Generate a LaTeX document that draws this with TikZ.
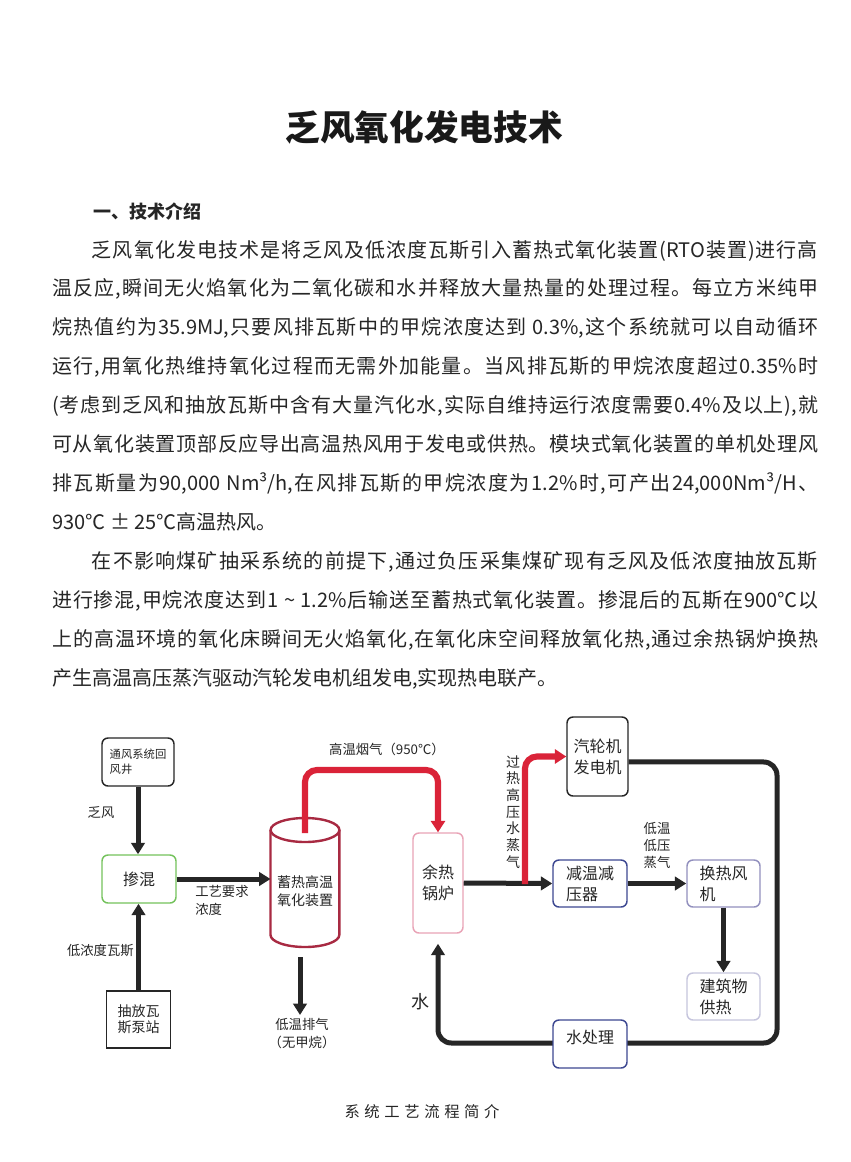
\documentclass[tikz,border=0pt]{standalone}
\usepackage{fontspec}
\setmainfont{Noto Sans CJK SC}
\usetikzlibrary{arrows.meta}
% inter-character glue for justified CJK lines
\newcount\cjkcc \cjkcc="4E00
\loop \XeTeXcharclass\cjkcc=1 \advance\cjkcc by 1 \ifnum\cjkcc<"A000 \repeat
\XeTeXcharclass"3001=3 \XeTeXcharclass"3002=3
\XeTeXinterchartokenstate=1
\XeTeXinterchartoks 1 1 = {\hskip 0pt plus 4pt\relax}
\XeTeXinterchartoks 0 1 = {\hskip 0pt plus 4pt\relax}
\XeTeXinterchartoks 1 0 = {\hskip 0pt plus 4pt\relax}
\XeTeXinterchartoks 1 3 = {\hskip 0pt plus 4pt\relax}
\XeTeXinterchartoks 3 1 = {\hskip 0pt plus 4pt\relax}
\XeTeXinterchartoks 0 3 = {\hskip 0pt plus 4pt\relax}
\XeTeXinterchartoks 3 0 = {\hskip 0pt plus 4pt\relax}
\newdimen\px \px=0.75pt
\definecolor{ink}{HTML}{262626}
\definecolor{pipered}{HTML}{DA2338}
\definecolor{cylred}{HTML}{A82A42}
\definecolor{mixgreen}{HTML}{74C25C}
\definecolor{boilpink}{HTML}{E9A3B6}
\definecolor{navy}{HTML}{3D4891}
\definecolor{lav}{HTML}{9290BE}
\definecolor{lavlight}{HTML}{C6C5DD}
\newcommand\jline[2]{\hbox to #1\px{\spaceskip=0.28em plus 0.5pt\relax #2}}
\begin{document}
\begin{tikzpicture}[x=0.75pt,y=-0.75pt,
  body/.style={inner sep=0pt, anchor=west, text height=13.2pt, text depth=1.8pt, text=ink, font=\fontsize{15pt}{18pt}\selectfont},
  box/.style={draw, rounded corners=4.5pt, line width=1.1pt, inner sep=0pt, align=center, text=ink, fill=white},
  boxtxt/.style={font=\fontsize{12pt}{15.75pt}\selectfont},
  lbl/.style={inner sep=0pt, align=center, text=ink, font=\fontsize{10pt}{13.5pt}\selectfont},
  flow/.style={draw=ink, line width=3.75pt, -{Triangle[length=8.5pt,width=10pt]}},
  redflow/.style={draw=pipered, line width=4.6pt, -{Triangle[length=8.5pt,width=10.5pt]}}
]
\fill[white] (0,0) rectangle (850,1162);
\useasboundingbox (0,0) rectangle (850,1162);

% title and heading
\node[inner sep=0pt, text=black!90, font=\fontsize{26pt}{30pt}\selectfont\bfseries] (title) at (424,127) {乏风氧化发电技术};
\node[body, font=\fontsize{13.5pt}{16pt}\selectfont\bfseries, text height=11.9pt, text depth=1.6pt] (head) at (93,212) {一、技术介绍};

% body text
\node[body] (p1) at (91.7,249.5) {\jline{726}{乏风氧化发电技术是将乏风及低浓度瓦斯引入蓄热式氧化装置(RTO装置)进行高}};
\node[body] (p2) at (52,288.4) {\jline{766}{温反应,瞬间无火焰氧化为二氧化碳和水并释放大量热量的处理过程。每立方米纯甲}};
\node[body] (p3) at (52,327.3) {\jline{766}{烷热值约为35.9MJ,只要风排瓦斯中的甲烷浓度达到 0.3\%,这个系统就可以自动循环}};
\node[body] (p4) at (52,366.2) {\jline{766}{运行,用氧化热维持氧化过程而无需外加能量。当风排瓦斯的甲烷浓度超过0.35\%时}};
\node[body] (p5) at (52,405.1) {\jline{766}{(考虑到乏风和抽放瓦斯中含有大量汽化水,实际自维持运行浓度需要0.4\%及以上),就}};
\node[body] (p6) at (52,444) {\jline{766}{可从氧化装置顶部反应导出高温热风用于发电或供热。模块式氧化装置的单机处理风}};
\node[body] (p7) at (52,482.9) {\jline{766}{排瓦斯量为90,000 Nm³/h,在风排瓦斯的甲烷浓度为1.2\%时,可产出24,000Nm³/H、}};
\node[body] (p8) at (52,521.8) {930℃ ± 25℃高温热风。};
\node[body] (q1) at (91.7,560.7) {\jline{726}{在不影响煤矿抽采系统的前提下,通过负压采集煤矿现有乏风及低浓度抽放瓦斯}};
\node[body] (q2) at (52,599.6) {\jline{766}{进行掺混,甲烷浓度达到1 \textasciitilde{} 1.2\%后输送至蓄热式氧化装置。掺混后的瓦斯在900℃以}};
\node[body] (q3) at (52,638.5) {\jline{766}{上的高温环境的氧化床瞬间无火焰氧化,在氧化床空间释放氧化热,通过余热锅炉换热}};
\node[body] (q4) at (52,677.4) {产生高温高压蒸汽驱动汽轮发电机组发电,实现热电联产。};

% ---------- diagram ----------
\node[box, draw=ink, minimum width=54pt, minimum height=36pt, align=left, font=\fontsize{8.5pt}{11.25pt}\selectfont] (vent) at (138,762) {通风系统回\\风井};
\node[box, boxtxt, draw=mixgreen, minimum width=55.5pt, minimum height=36pt] (mix) at (139,879) {掺混};
\node[box, draw=ink, rounded corners=0pt, minimum width=48pt, minimum height=42.75pt, font=\fontsize{10.5pt}{12pt}\selectfont] (pump) at (138.5,1019.5) {抽放瓦\\斯泵站};

% cylinder (regenerative oxidizer)
\draw[cylred, line width=1.8pt] (270.5,830) -- (270.5,935)
  arc[start angle=180, end angle=360, x radius=25.8pt, y radius=9pt] -- (339.3,830);
\draw[cylred, line width=1.8pt, fill=white] (305,830) ellipse[x radius=25.8pt, y radius=9pt];
\node[lbl, font=\fontsize{10.5pt}{13.5pt}\selectfont] (rto) at (305,891) {蓄热高温\\氧化装置};
\coordinate (rtoW) at (270.5,879);
\coordinate (rtoTop) at (305,833);
\coordinate (rtoB) at (300,957);
\coordinate (exTip) at (300,1015);

\node[box, boxtxt, draw=boilpink, minimum width=37.5pt, minimum height=75pt] (boiler) at (438,883) {余热\\锅炉};
\node[box, boxtxt, draw=ink, minimum width=45.75pt, minimum height=59.25pt] (turb) at (597.5,756.5) {汽轮机\\发电机};
\node[box, boxtxt, draw=navy, minimum width=55.5pt, minimum height=35.25pt, align=left] (desup) at (590,883.5) {减温减\\压器};
\node[box, boxtxt, draw=lav, minimum width=54.75pt, minimum height=35.25pt, align=left] (fan) at (723.5,883.5) {换热风\\机};
\node[box, boxtxt, draw=lavlight, minimum width=54.75pt, minimum height=35.25pt, align=left] (bld) at (723.5,996.5) {建筑物\\供热};

% labels
\node[lbl] (lfa) at (101,813) {乏风};
\node[lbl, anchor=west, align=left] (lgy) at (195,900) {工艺要求\\浓度};
\node[lbl, anchor=east] (ldn) at (134,950) {低浓度瓦斯};
\node[lbl] (lgw) at (387,749) {高温烟气（950℃）};
\node[lbl] (exh) at (302,1034) {低温排气\\（无甲烷）};
\node[lbl, font=\fontsize{13.5pt}{16pt}\selectfont] (lw) at (420,1002) {水};
\node[lbl, font=\fontsize{10.5pt}{12.5pt}\selectfont] (lgr) at (513,812) {过\\热\\高\\压\\水\\蒸\\气};
\node[lbl, font=\fontsize{10pt}{12.75pt}\selectfont] (ldw) at (657,845) {低温\\低压\\蒸气};

% connectors
\draw[flow] (vent.south) -- (vent.south |- mix.north);
\draw[flow] (pump.north) -- (pump.north |- mix.south);
\draw[flow] (mix.east) -- (rtoW);
\draw[flow] (rtoB) -- (exTip);
\coordinate (g1) at (305,770);
\coordinate (g2) at (438,770);
\draw[redflow, rounded corners=9pt] (rtoTop) -- (g1) -- (g2) -- (boiler.north);
\draw[flow] (boiler.east) -- (desup.west);
\coordinate (br) at (525,884);
\draw[redflow, rounded corners=9pt] (br) |- (turb.west);
\draw[flow] (desup.east) -- (fan.west);
\draw[flow] (fan.south) -- (bld.north);
\coordinate (c1) at (777,762);
\coordinate (c2) at (777,1043);
\coordinate (c3) at (438,1043);
\draw[flow, rounded corners=10pt] ([yshift=-4pt]turb.east) -- (c1) -- (c2) -- (c3) -- ([yshift=-7.5pt]boiler.south);
\node[box, draw=navy, minimum width=55.5pt, minimum height=36pt, font=\fontsize{12pt}{15pt}\selectfont] (wt) at (590,1044) {\raisebox{0.7pt}[0pt][0pt]{水处理}};

% caption
\node[inner sep=0pt, text=ink, font=\fontsize{11.5pt}{14pt}\selectfont] (cap) at (422,1112) {\jline{155}{系统工艺流程简介}};
\end{tikzpicture}
\end{document}
